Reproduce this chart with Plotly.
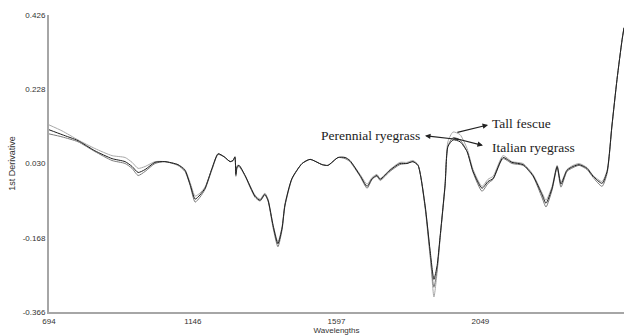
import plotly.graph_objects as go

# Wavelength grid (nm)
wavelengths = [694, 735, 785, 838, 892, 933, 955, 974, 996, 1027,
               1058, 1099, 1121, 1137, 1153, 1168, 1184, 1206, 1225, 1244,
               1263, 1272, 1278, 1281, 1285, 1291, 1310, 1341, 1357, 1372,
               1382, 1398, 1413, 1426, 1435, 1457, 1489, 1514, 1552, 1570,
               1602, 1624, 1639, 1671, 1693, 1709, 1724, 1734, 1765, 1796,
               1818, 1837, 1853, 1875, 1891, 1903, 1913, 1922, 1938, 1947,
               1963, 1985, 2007, 2026, 2054, 2073, 2089, 2120, 2148, 2183,
               2214, 2243, 2255, 2274, 2290, 2302, 2321, 2340, 2359, 2384,
               2403, 2431, 2447, 2462, 2478, 2494, 2500]

# First-derivative spectra
perennial_ryegrass = [0.120, 0.107, 0.091, 0.064, 0.043, 0.035, 0.022, 0.006, 0.014, 0.033,
                      0.035, 0.027, 0.012, -0.025, -0.065, -0.054, -0.036, 0.017, 0.056, 0.048,
                      0.035, 0.038, 0.048, 0.001, 0.022, 0.025, -0.002, -0.057, -0.068, -0.052,
                      -0.068, -0.136, -0.184, -0.142, -0.081, -0.010, 0.030, 0.041, 0.027, 0.025,
                      0.046, 0.046, 0.038, -0.002, -0.031, -0.010, -0.002, -0.012, 0.012, 0.030,
                      0.030, 0.035, 0.025, -0.081, -0.202, -0.279, -0.242, -0.168, -0.028, 0.075,
                      0.093, 0.088, 0.062, 0.009, -0.036, -0.018, -0.010, 0.046, 0.033, 0.027,
                      -0.002, -0.054, -0.076, -0.036, 0.022, -0.025, 0.012, 0.022, 0.027, 0.017,
                      -0.004, -0.023, 0.009, 0.130, 0.254, 0.360, 0.392]

tall_fescue = [0.133, 0.117, 0.093, 0.070, 0.051, 0.046, 0.033, 0.017, 0.022, 0.035,
               0.035, 0.027, 0.014, -0.020, -0.057, -0.049, -0.033, 0.017, 0.056, 0.048,
               0.035, 0.038, 0.046, 0.012, 0.025, 0.025, -0.002, -0.054, -0.065, -0.049,
               -0.065, -0.134, -0.179, -0.139, -0.078, -0.010, 0.030, 0.041, 0.027, 0.025,
               0.046, 0.046, 0.038, 0.001, -0.025, -0.007, 0.001, -0.010, 0.014, 0.033,
               0.033, 0.038, 0.027, -0.078, -0.208, -0.326, -0.260, -0.173, -0.023, 0.088,
               0.114, 0.107, 0.070, 0.014, -0.031, -0.012, -0.004, 0.051, 0.035, 0.030,
               0.001, -0.049, -0.068, -0.031, 0.025, -0.020, 0.014, 0.025, 0.030, 0.019,
               -0.002, -0.018, 0.012, 0.130, 0.254, 0.360, 0.392]

italian_ryegrass = [0.109, 0.101, 0.088, 0.062, 0.038, 0.030, 0.017, -0.002, 0.009, 0.030,
                    0.035, 0.025, 0.009, -0.028, -0.073, -0.060, -0.039, 0.014, 0.054, 0.048,
                    0.035, 0.038, 0.046, -0.004, 0.019, 0.022, -0.004, -0.060, -0.070, -0.054,
                    -0.070, -0.142, -0.192, -0.147, -0.084, -0.012, 0.030, 0.041, 0.027, 0.025,
                    0.046, 0.043, 0.035, -0.004, -0.036, -0.012, -0.004, -0.015, 0.009, 0.027,
                    0.030, 0.035, 0.025, -0.086, -0.216, -0.300, -0.252, -0.173, -0.031, 0.077,
                    0.099, 0.093, 0.062, 0.006, -0.044, -0.023, -0.012, 0.043, 0.030, 0.025,
                    -0.004, -0.062, -0.086, -0.041, 0.019, -0.033, 0.009, 0.019, 0.025, 0.014,
                    -0.007, -0.031, 0.004, 0.128, 0.254, 0.360, 0.392]

x_ticks = [694, 1146, 1597, 2049, 2500]
y_ticks = [0.426, 0.228, 0.030, -0.168, -0.366]
y_tick_text = ["0.426", "0.228", "0.030", "-0.168", "-0.366"]

series = [
    ("Tall fescue", tall_fescue, "#a8a8a8"),
    ("Italian ryegrass", italian_ryegrass, "#7a7a7a"),
    ("Perennial ryegrass", perennial_ryegrass, "#1e1e1e"),
]

fig = go.Figure()
for name, values, color in series:
    fig.add_trace(go.Scatter(
        x=wavelengths, y=values, name=name, mode="lines",
        line=dict(color=color, width=1.0, shape="spline", smoothing=0.6),
        showlegend=False,
    ))

axis_font = dict(family="Arial, Liberation Sans, sans-serif", size=8, color="#333333")
label_font = dict(family="Liberation Serif, Times New Roman, serif", size=13.5, color="#222222")

fig.update_layout(
    width=629, height=336,
    margin=dict(l=49, r=5, t=15, b=21),
    paper_bgcolor="white", plot_bgcolor="white",
    xaxis=dict(
        range=[694, 2500], tickvals=x_ticks, ticktext=[str(v) for v in x_ticks],
        showgrid=False, zeroline=False, showline=True, linecolor="#a6a6a6", linewidth=2,
        ticks="", tickfont=axis_font,
        title=dict(text="Wavelengths", font=axis_font, standoff=0),
    ),
    yaxis=dict(
        range=[-0.366, 0.426], tickvals=y_ticks, ticktext=y_tick_text,
        showgrid=False, zeroline=False, showline=True, linecolor="#a6a6a6", linewidth=2,
        ticks="", tickfont=axis_font,
        title=dict(text="1st Derivative", font=dict(family="Arial, Liberation Sans, sans-serif", size=9, color="#333333"), standoff=6),
    ),
)

# Arrows from the peak near 1960 nm to each species label
arrows = [
    (2073, 0.133, 1972, 0.112),   # Tall fescue
    (2057, 0.078, 1960, 0.099),   # Italian ryegrass
    (1875, 0.104, 1991, 0.093),   # Perennial ryegrass
]
for hx, hy, tx, ty in arrows:
    fig.add_annotation(
        x=hx, y=hy, ax=tx, ay=ty, xref="x", yref="y", axref="x", ayref="y",
        text="", showarrow=True, arrowhead=2, arrowsize=1, arrowwidth=1.1,
        arrowcolor="#222222",
    )

fig.add_annotation(x=2079, y=0.136, text="Tall fescue", showarrow=False,
                   xanchor="left", yanchor="middle", font=label_font)
fig.add_annotation(x=2079, y=0.072, text="Italian ryegrass", showarrow=False,
                   xanchor="left", yanchor="middle", font=label_font)
fig.add_annotation(x=1866, y=0.104, text="Perennial ryegrass", showarrow=False,
                   xanchor="right", yanchor="middle", font=label_font)

fig.write_html("out.html")
